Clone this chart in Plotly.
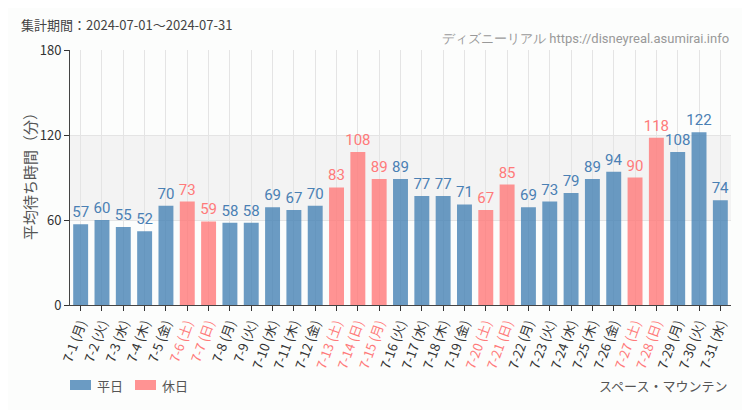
import plotly.graph_objects as go

days = [f"7-{d}" for d in range(1, 32)]
weekdays = ["月", "火", "水", "木", "金", "土", "日"]
dow = [weekdays[(d - 1) % 7] for d in range(1, 32)]
holidays = [6, 7, 13, 14, 15, 20, 21, 27, 28]
values = [57, 60, 55, 52, 70, 73, 59, 58, 58, 69, 67, 70, 83, 108, 89, 89, 77, 77, 71, 67,
          85, 69, 73, 79, 89, 94, 90, 118, 108, 122, 74]
labels = [f"{d} ({w})" for d, w in zip(days, dow)]
is_hol = [(i + 1) in holidays for i in range(31)]

BLUE = "rgba(70,130,180,0.8)"
PINK = "rgba(255,120,120,0.8)"
BLUE_T = "#4a80b4"
PINK_T = "#ff7a7a"
NARROW = "Roboto, sans-serif"

fig = go.Figure()
for hol, name, col, tcol in [(False, "平日", BLUE, BLUE_T), (True, "休日", PINK, PINK_T)]:
    xs = [l for l, h in zip(labels, is_hol) if h == hol]
    ys = [v for v, h in zip(values, is_hol) if h == hol]
    fig.add_trace(go.Bar(
        x=xs, y=ys, name=name, marker=dict(color=col, line=dict(width=0)),
        text=[str(v) for v in ys], textposition="outside", cliponaxis=False,
        constraintext="none",
        textfont=dict(color=tcol, size=15, family=NARROW),
        showlegend=False,
    ))

ticktext = [f'<span style="color:{PINK_T}">{l}</span>' if h else l for l, h in zip(labels, is_hol)]

fig.update_layout(
    width=742, height=402,
    margin=dict(l=62, r=19, t=42, b=105),
    paper_bgcolor="#fcfdfc", plot_bgcolor="#fcfdfc",
    barmode="overlay", bargap=0.3,
    font=dict(family="Noto Sans CJK JP, sans-serif", color="#333", size=13),
    xaxis=dict(
        type="category", categoryorder="array", categoryarray=labels,
        tickvals=labels, ticktext=ticktext, tickangle=-70,
        ticks="outside", ticklen=5, tickcolor="#333",
        showline=True, linecolor="#444", linewidth=1,
        showgrid=True, gridcolor="#e4e4e4", gridwidth=1,
        tickfont=dict(size=13, color="#333"),
        range=[-0.5, 30.5], automargin=False,
    ),
    yaxis=dict(
        range=[0, 180], tickvals=[0, 60, 120, 180],
        ticks="outside", ticklen=5, tickcolor="#333",
        showline=True, linecolor="#444", linewidth=1,
        showgrid=True, gridcolor="#e4e4e4", zeroline=False,
        tickfont=dict(size=13, color="#333"), automargin=False,
    ),
)

fig.add_shape(type="rect", xref="paper", yref="y", x0=0, x1=1, y0=60, y1=120,
              fillcolor="#f3f3f3", line=dict(width=0), layer="below")

fig.add_annotation(text="平均待ち時間（分）", xref="paper", yref="paper",
                   x=(29 - 70) / 661, y=(305 - 173) / 255, xanchor="center", yanchor="middle", textangle=-90,
                   showarrow=False, font=dict(size=15, color="#555"))
fig.add_annotation(text="集計期間：2024-07-01～2024-07-31", xref="paper", yref="paper",
                   x=(19 - 70) / 661, y=(305 - 25) / 255, xanchor="left", yanchor="middle",
                   showarrow=False, font=dict(size=13, color="#444"))
fig.add_annotation(text="ディズニーリアル https://disneyreal.asumirai.info", xref="paper", yref="paper",
                   x=(731 - 70) / 661, y=(305 - 39) / 255, xanchor="right", yanchor="middle",
                   showarrow=False,
                   font=dict(size=13, color="#999", family=NARROW))
fig.add_annotation(text="スペース・マウンテン", xref="paper", yref="paper",
                   x=(729 - 70) / 661, y=(305 - 385) / 255, xanchor="right", yanchor="middle",
                   showarrow=False, font=dict(size=13, color="#555"))

# legend (manual)
for x0, col, name in [(70, BLUE, "平日"), (135, PINK, "休日")]:
    fig.add_shape(type="rect", xref="paper", yref="paper",
                  x0=(x0 - 70) / 661, x1=(x0 + 21 - 70) / 661,
                  y0=(305 - 390) / 255, y1=(305 - 380) / 255,
                  fillcolor=col, line=dict(width=0))
    fig.add_annotation(text=name, xref="paper", yref="paper",
                       x=(x0 + 25 - 70) / 661, y=(305 - 385) / 255, xanchor="left", yanchor="middle",
                       showarrow=False, font=dict(size=13, color="#555"))

fig.write_html("out.html")
